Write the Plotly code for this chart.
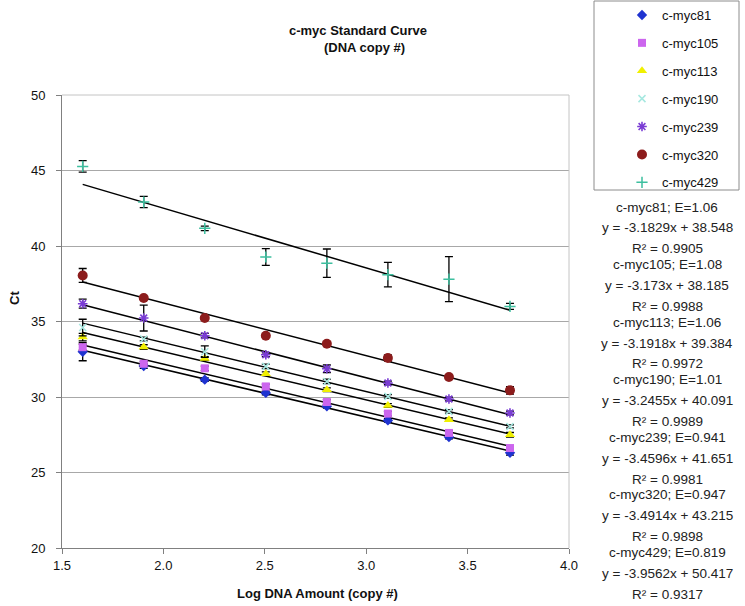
import plotly.graph_objects as go

# ---- data ----
x_log = [1.602, 1.903, 2.204, 2.505, 2.806, 3.107, 3.408, 3.709]

series_names = ["c-myc81", "c-myc105", "c-myc113", "c-myc190", "c-myc239", "c-myc320", "c-myc429"]

ct_81 = [33.0, 32.05, 31.15, 30.27, 29.38, 28.45, 27.35, 26.30]
ct_105 = [33.3, 32.2, 31.9, 30.7, 29.67, 28.9, 27.62, 26.62]
ct_113 = [33.97, 33.31, 32.55, 31.54, 30.48, 29.44, 28.5, 27.5]
ct_190 = [34.6, 33.84, 33.0, 32.03, 31.03, 30.04, 29.05, 28.05]
ct_239 = [36.18, 35.23, 34.06, 32.8, 31.87, 30.93, 29.87, 28.94]
ct_320 = [38.05, 36.56, 35.23, 34.06, 33.53, 32.58, 31.32, 30.44]
ct_429 = [45.27, 42.91, 41.17, 39.27, 38.86, 38.1, 37.8, 36.0]

err_81 = [0.6, 0.15, 0.12, 0.12, 0.12, 0.12, 0.12, 0.15]
err_105 = [0.2, 0.15, 0.15, 0.15, 0.15, 0.15, 0.15, 0.15]
err_113 = [0.25, 0.15, 0.12, 0.12, 0.12, 0.12, 0.12, 0.15]
err_190 = [0.55, 0.12, 0.38, 0.15, 0.15, 0.12, 0.12, 0.1]
err_239 = [0.3, 0.86, 0.15, 0.12, 0.25, 0.12, 0.12, 0.12]
err_320 = [0.46, 0.1, 0.1, 0.1, 0.12, 0.2, 0.15, 0.25]
err_429 = [0.38, 0.37, 0.15, 0.55, 0.94, 0.81, 1.49, 0.2]

slopes = [-3.1829, -3.173, -3.1918, -3.2455, -3.4596, -3.4914, -3.9562]
intercepts = [38.548, 38.185, 39.384, 40.091, 41.651, 43.215, 50.417]
efficiency = ["1.06", "1.08", "1.06", "1.01", "0.941", "0.947", "0.819"]
r_squared = ["0.9905", "0.9988", "0.9972", "0.9989", "0.9981", "0.9898", "0.9317"]

x_ticks = [1.5, 2.0, 2.5, 3.0, 3.5, 4.0]
y_ticks = [20, 25, 30, 35, 40, 45, 50]

ct_all = [ct_81, ct_105, ct_113, ct_190, ct_239, ct_320, ct_429]
err_all = [err_81, err_105, err_113, err_190, err_239, err_320, err_429]

# ---- styles ----
FONT = "Liberation Sans, Arial, sans-serif"
marker_styles = [
    dict(symbol="diamond", size=8, color="#1f33d0"),
    dict(symbol="square", size=8, color="#cc66ee"),
    dict(symbol="triangle-up", size=9, color="#f0f000"),
    dict(symbol="x-thin-open", size=7, color="#a6e8e0", line=dict(color="#a6e8e0", width=1.5)),
    dict(symbol="asterisk-open", size=8, color="#7a3cd4", line=dict(color="#7a3cd4", width=1.6)),
    dict(symbol="circle", size=10, color="#8c1c1c"),
    dict(symbol="cross-thin-open", size=8, color="#3dbf9f", line=dict(color="#3dbf9f", width=1.5)),
]

# pixel geometry helpers (plot area: x 62..569, y 95..548)
L, R, T, B = 62, 569, 95, 548
def px(xp):
    return (xp - L) / (R - L)
def py(yp):
    return (B - yp) / (B - T)

fig = go.Figure()

# trend lines (drawn first)
for i, name in enumerate(series_names):
    xs = [x_log[0], x_log[-1]]
    ys = [slopes[i] * xv + intercepts[i] for xv in xs]
    fig.add_trace(go.Scatter(x=xs, y=ys, mode="lines", line=dict(color="black", width=1.5),
                             showlegend=False, hoverinfo="skip"))

for i, name in enumerate(series_names):
    fig.add_trace(go.Scatter(
        x=x_log, y=ct_all[i], mode="markers", name=name, legendgroup=name,
        marker=marker_styles[i],
        error_y=dict(type="data", array=err_all[i], color="black", thickness=1.3, width=4),
    ))

# legend box
fig.add_shape(type="rect", xref="paper", yref="paper",
              x0=px(594), x1=px(739), y0=py(190), y1=py(1),
              line=dict(color="#8c8c8c", width=1), fillcolor="rgba(0,0,0,0)")
# top & right plot border
fig.add_shape(type="line", xref="paper", yref="paper", x0=0, x1=1, y0=1, y1=1,
              line=dict(color="#c4c4c4", width=1))
fig.add_shape(type="line", xref="paper", yref="paper", x0=1, x1=1, y0=0, y1=1,
              line=dict(color="#c4c4c4", width=1))

annotations = []
def add_text(text, xp, yp, size, **kw):
    annotations.append(dict(text=text, x=px(xp), y=py(yp), xref="paper", yref="paper",
                            showarrow=False, xanchor="center", yanchor="middle", borderpad=0,
                            font=dict(size=size, family=FONT, color=kw.pop("color", "#111")), **kw))

# title
add_text("<b>c-myc Standard Curve</b>", 358, 31, 13)
add_text("<b>(DNA copy #)</b>", 364, 48, 13)
# axis titles
add_text("<b>Ct</b>", 14, 298, 13, textangle=-90)
add_text("<b>Log DNA Amount (copy #)</b>", 317, 593, 13)
# equation blocks
for i, name in enumerate(series_names):
    y0 = 207 + 57.5 * i
    lines = [
        f"{name}; E={efficiency[i]}",
        f"y = {slopes[i]}x + {intercepts[i]}",
        f"R\u00b2 = {r_squared[i]}",
    ]
    for j, t in enumerate(lines):
        add_text(t, 667, y0 + 21 * j, 13.5, color="#222")

fig.update_layout(
    width=745, height=606,
    margin=dict(l=L, r=745 - R, t=T, b=606 - B, autoexpand=False),
    plot_bgcolor="white", paper_bgcolor="white",
    font=dict(family=FONT, size=13, color="#111"),
    showlegend=True,
    legend=dict(x=px(622), y=py(0), xanchor="left", yanchor="top",
                bgcolor="rgba(0,0,0,0)", borderwidth=0, tracegroupgap=8,
                font=dict(size=13, family=FONT, color="#111")),
    annotations=annotations,
)
fig.update_xaxes(range=[1.5, 4.0], tickvals=x_ticks, ticktext=[f"{v:.1f}" for v in x_ticks],
                 showgrid=False, zeroline=False, showline=True, linecolor="#808080", linewidth=1,
                 ticks="outside", ticklen=5, tickcolor="#808080", tickfont=dict(size=13))
fig.update_yaxes(range=[20, 50], tickvals=y_ticks, showgrid=True, gridcolor="#a8a8a8", gridwidth=1,
                 zeroline=False, showline=True, linecolor="#808080", linewidth=1,
                 ticks="outside", ticklen=5, tickcolor="#808080", tickfont=dict(size=13),
                 ticklabelstandoff=8)

fig.write_html("out.html", config={"displayModeBar": False},
               post_script="document.body.style.margin='0px';")
